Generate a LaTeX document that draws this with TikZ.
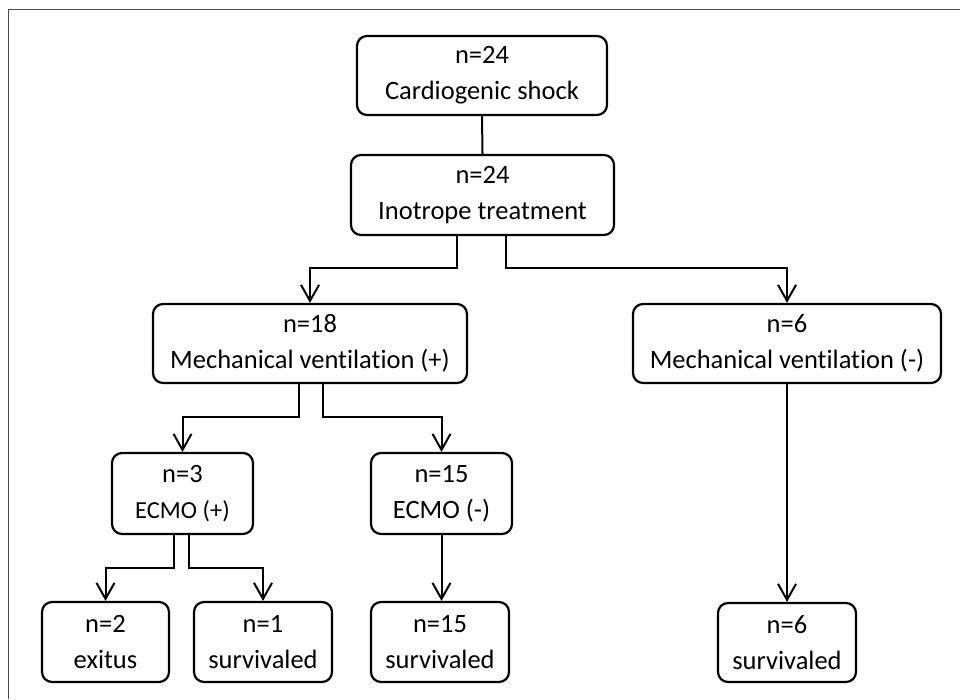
\documentclass[tikz,border=0pt]{standalone}
\usepackage{fontspec}
\setmainfont{Carlito}[Ligatures=NoCommon]
\usetikzlibrary{arrows.meta,positioning,calc}

\begin{document}
\begin{tikzpicture}[x=1pt,y=-1pt,
		box/.style={draw,rounded corners=10pt,line width=2.2pt,align=center,inner sep=0pt,font=\fontsize{26.5}{36}\selectfont},
		link/.style={line width=2pt},
		arr/.style={link,-{Straight Barb[length=16pt,width=18pt,line width=2pt]}}]
	\useasboundingbox (0,0) rectangle (960,699);
	\draw[gray!60!black,line width=0.8pt] (960,9) -- (8,9) -- (8,699);

	\node[box,minimum width=250pt,minimum height=79pt] (shock) at (482,75.5) {n=24\\Cardiogenic shock};
	\node[box,minimum width=263pt,minimum height=80pt] (ino) at (482.5,195) {n=24\\Inotrope treatment};
	\node[box,minimum width=314pt,minimum height=79pt] (mvpos) at (310,343.5) {n=18\\Mechanical ventilation (+)};
	\node[box,minimum width=308pt,minimum height=79pt] (mvneg) at (787,343.5) {n=6\\Mechanical ventilation (-)};
	\node[box,minimum width=141pt,minimum height=81pt] (ecmopos) at (182.5,493.5) {n=3\\{\fontsize{24.5}{36}\selectfont ECMO (+)}};
	\node[box,minimum width=141pt,minimum height=81pt] (ecmoneg) at (441.5,493.5) {n=15\\ECMO (-)};
	\node[box,minimum width=127pt,minimum height=80pt] (exitus) at (105.5,642) {n=2\\exitus};
	\node[box,minimum width=138pt,minimum height=80pt] (surv1) at (263,642) {n=1\\survivaled};
	\node[box,minimum width=138pt,minimum height=80pt] (surv15) at (440,642) {n=15\\survivaled};
	\node[box,minimum width=138pt,minimum height=79pt] (surv6) at (787,642.5) {n=6\\survivaled};

	\draw[link] (shock.south) -- (ino.north);
	\draw[arr] ([xshift=-26pt]ino.south) -- ++(0,32) -| (mvpos.north);
	\draw[arr] ([xshift=23pt]ino.south) -- ++(0,32) -| (mvneg.north);
	\draw[arr] ([xshift=-11pt]mvpos.south) -- ++(0,33) -| (ecmopos.north);
	\draw[arr] ([xshift=13pt]mvpos.south) -- ++(0,33) -| (ecmoneg.north);
	\draw[arr] ([xshift=-8.5pt]ecmopos.south) -- ++(0,33) -| (exitus.north);
	\draw[arr] ([xshift=6.5pt]ecmopos.south) -- ++(0,33) -| (surv1.north);
	\draw[arr] (ecmoneg.south) -- (ecmoneg.south |- surv15.north);
	\draw[arr] (mvneg.south) -- (surv6.north);
\end{tikzpicture}
\end{document}
